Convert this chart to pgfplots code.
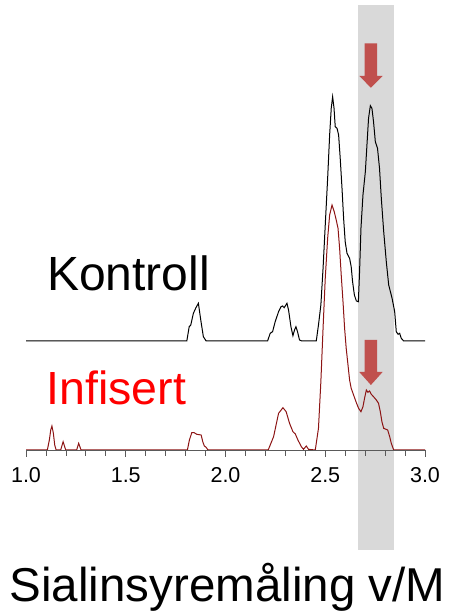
\documentclass[border=0pt]{standalone}
\usepackage{fontspec}
\setmainfont{Liberation Sans}
\usepackage{pgfplots}
\pgfplotsset{compat=1.18}
\definecolor{infred}{RGB}{140,20,20}
\definecolor{arrred}{RGB}{192,80,77}
\definecolor{band}{RGB}{217,217,217}
\definecolor{axgray}{RGB}{90,90,90}
\begin{document}
\begin{tikzpicture}
\path[use as bounding box] (0,0) rectangle (448pt,612pt);
\begin{axis}[
  at={(26pt,162pt)}, anchor=south west,
  scale only axis, width=399pt, height=445pt,
  xmin=1, xmax=3, ymin=0, ymax=445,
  clip=false, axis on top,
  axis y line=none, axis x line=bottom,
  x axis line style={-, axgray, line width=0.9pt},
  xtick={1,1.5,2,2.5,3}, minor x tick num=4,
  tick align=outside, major tick length=7pt, minor tick length=6pt,
  every tick/.style={axgray, line width=0.8pt},
  xticklabel style={font=\fontsize{21.5}{21.5}\selectfont, text=black, yshift=-7pt},
  /pgf/number format/assume math mode=true,
  /pgf/number format/.cd, fixed, fixed zerofill, precision=1,
]
\fill[band] (axis cs:2.6656,-100) rectangle (axis cs:2.8462,445);
\addplot[black, line width=1pt] coordinates {
(1.000,109) (1.806,109) (1.818,123.3) (1.826,125) (1.839,136.7) (1.851,142) (1.864,146.7)
(1.876,130) (1.889,113.3) (1.903,109) (2.211,109) (2.224,116.7) (2.236,118.3) (2.249,128.3)
(2.266,138.3) (2.278,143.3) (2.286,144) (2.294,142.3) (2.308,146.7) (2.316,140) (2.328,123.3)
(2.338,114.3) (2.346,120) (2.353,123.3) (2.361,118.3) (2.371,110) (2.383,109) (2.455,109)
(2.466,125) (2.478,145) (2.489,181.7) (2.500,225) (2.512,271.7) (2.522,315) (2.530,341.7)
(2.537,353.3) (2.544,341.7) (2.550,323.3) (2.559,321.7) (2.567,315) (2.575,291.7) (2.584,261.7)
(2.592,231.7) (2.600,208.3) (2.609,196.7) (2.622,191.7) (2.630,183.3) (2.637,168.3) (2.646,155)
(2.656,149) (2.666,148.3) (2.672,178.3) (2.679,221.7) (2.689,255) (2.701,278.3) (2.709,305)
(2.717,331.7) (2.726,344.3) (2.734,341.7) (2.742,328.3) (2.751,308.3) (2.762,301.7) (2.772,281.7)
(2.781,251.7) (2.793,218.3) (2.806,188.3) (2.818,165) (2.835,151.7) (2.848,138.3) (2.856,118.3)
(2.865,115.7) (2.873,116.7) (2.881,111.7) (2.893,109) (3.000,109)
};
\addplot[infred, line width=1pt] coordinates {
(1.000,0) (1.107,0) (1.117,10) (1.124,20) (1.130,24) (1.137,17) (1.144,5) (1.151,0)
(1.174,0) (1.186,8.3) (1.199,0) (1.254,0) (1.264,6.7) (1.276,0)
(1.809,0) (1.819,10) (1.831,17.3) (1.843,17.3) (1.856,15.7) (1.878,15) (1.886,8.3) (1.894,4)
(1.903,2.7) (1.912,0) (2.214,0) (2.241,13.3) (2.266,36.7) (2.288,42.3) (2.304,38.3) (2.321,26.7)
(2.338,18.3) (2.350,16) (2.363,10) (2.380,3.3) (2.391,0.7) (2.405,4) (2.416,0.7) (2.450,0)
(2.466,21.7) (2.478,68.3) (2.489,121.7) (2.500,171.7) (2.512,211.7) (2.522,235) (2.534,245)
(2.545,238.3) (2.555,230) (2.564,221.7) (2.572,201.7) (2.580,175) (2.589,148.3) (2.597,121.7)
(2.605,101.7) (2.614,85) (2.622,70) (2.630,61.7) (2.642,55) (2.654,48.3) (2.667,41.7)
(2.679,38.3) (2.689,43.3) (2.697,51.7) (2.706,60) (2.714,57.7) (2.722,59) (2.731,55.7)
(2.742,53.3) (2.756,50) (2.767,46.7) (2.776,38.3) (2.784,28.3) (2.793,21.7) (2.801,21)
(2.813,20) (2.823,13.3) (2.831,6.7) (2.843,0) (3.000,0)
};
\fill[arrred] (axis cs:2.6977,406.7) -- (axis cs:2.7599,406.7) -- (axis cs:2.7599,374)
  -- (axis cs:2.7875,374) -- (axis cs:2.7288,362.3) -- (axis cs:2.6706,374)
  -- (axis cs:2.6977,374) -- cycle;
\fill[arrred] (axis cs:2.6977,110) -- (axis cs:2.7599,110) -- (axis cs:2.7599,78)
  -- (axis cs:2.7875,78) -- (axis cs:2.7288,65) -- (axis cs:2.6706,78)
  -- (axis cs:2.6977,78) -- cycle;
\end{axis}
\node[anchor=base west, inner sep=0pt, font=\fontsize{48}{48}\selectfont] at (47pt,321pt) {Kontroll};
\node[anchor=base west, inner sep=0pt, text=red, font=\fontsize{46.5}{46.5}\selectfont] at (46.5pt,207pt) {Infisert};
\node[anchor=base west, inner sep=0pt, font=\fontsize{47.5}{47.5}\selectfont] at (9.5pt,10.3pt) {Sialinsyremåling v/M};
\end{tikzpicture}
\end{document}
